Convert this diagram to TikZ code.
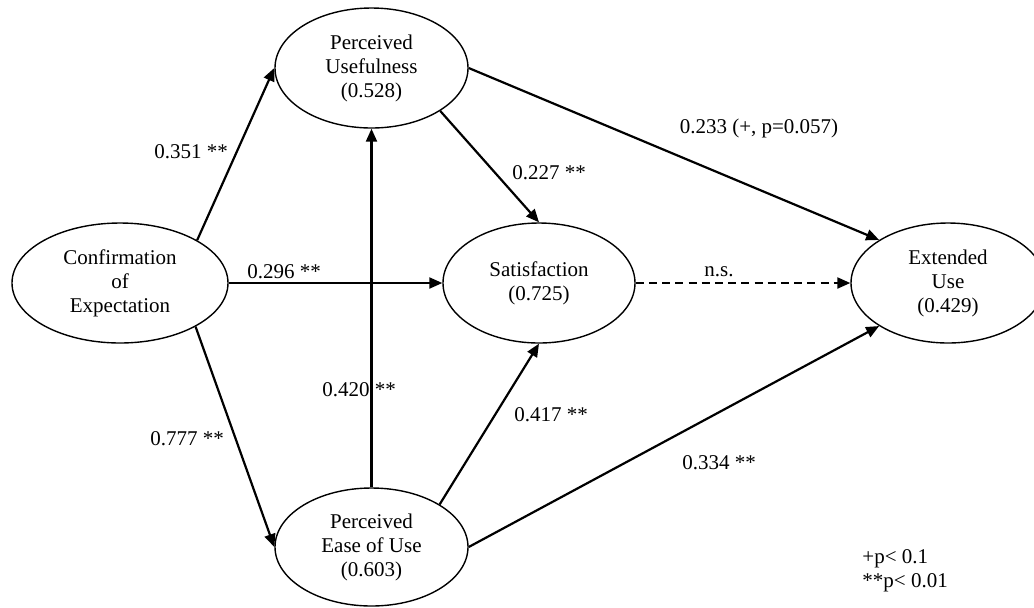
\documentclass[tikz,border=0pt]{standalone}
\usepackage{fontspec}
\setmainfont{Liberation Serif}
\usepackage{tikz}
\usetikzlibrary{shapes.geometric, arrows.meta}
\tikzset{
  construct/.style={ellipse, draw, line width=0.7pt, inner sep=0pt,
    align=center, minimum height=60pt, font=\fontsize{10.5}{12}\selectfont},
  effect/.style={-{Triangle[length=6.5pt, width=5.5pt]}, line width=1.1pt},
  nseffect/.style={effect, dash pattern=on 4pt off 2.6pt},
  coef/.style={inner sep=1pt, font=\fontsize{10.5}{12}\selectfont}
}

\begin{document}
\begin{tikzpicture}[x=0.5pt, y=-0.5pt]
  \clip (0,0) rectangle (1034,607);
  % constructs
  \node[construct, minimum width=108pt] (conf) at (120,283) {Confirmation\\of\\Expectation};
  \node[construct, minimum width=96.5pt] (useful) at (371.5,68) {Perceived\\Usefulness\\(0.528)};
  \node[construct, minimum width=96pt] (satis) at (539,283) {Satisfaction\\(0.725)};
  \node[construct, minimum width=97pt] (extuse) at (948,283) {Extended\\Use\\(0.429)};
  \node[construct, minimum width=96.5pt, minimum height=59pt] (ease) at (371.5,547) {Perceived\\Ease of Use\\(0.603)};
  % paths
  \draw[effect] (conf.29) -- (useful.west);
  \draw[effect] (conf.-30) -- (ease.west);
  \draw[effect] (conf) -- (satis);
  \draw[effect] (ease) -- (useful);
  \draw[effect] (useful.-32) -- (satis.north);
  \draw[effect] (ease.32) -- (satis.south);
  \draw[effect] (useful.east) -- (extuse.148);
  \draw[nseffect] (satis) -- (extuse);
  \draw[effect] (ease.east) -- (extuse.212);
  % coefficients
  \node[coef] (c351) at (191,152) {0.351 **};
  \node[coef] (c777) at (187,439) {0.777 **};
  \node[coef] (c296) at (284,272) {0.296 **};
  \node[coef] (c420) at (359,390) {0.420 **};
  \node[coef] (c227) at (549,173) {0.227 **};
  \node[coef] (c417) at (551,415) {0.417 **};
  \node[coef] (c233) at (759,128) {0.233 (+, p=0.057)};
  \node[coef] (cns) at (719,272) {n.s.};
  \node[coef] (c334) at (719,463) {0.334 **};
  \node[coef, anchor=west, align=left] (legend) at (860,571) {+p< 0.1\\**p< 0.01};
\end{tikzpicture}
\end{document}
